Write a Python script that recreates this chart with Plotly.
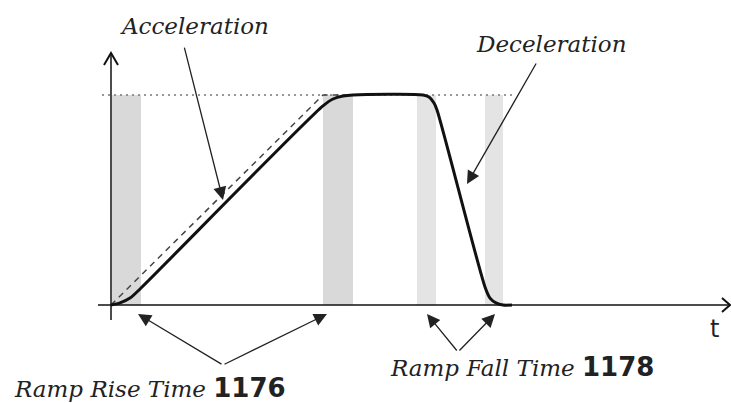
import plotly.graph_objects as go

# --- data (time in arbitrary units, speed as fraction of set speed) ---
time_pts = [0.00, 0.09, 0.19, 0.30, 2.12, 2.22, 2.32, 2.42, 3.12, 3.18, 3.23, 3.26, 3.74, 3.79, 3.85, 3.92, 4.01]
speed_pts = [0.000, 0.010, 0.033, 0.081, 0.948, 0.981, 0.995, 1.000, 1.000, 0.990, 0.962, 0.929, 0.086, 0.033, 0.010, 0.000, 0.000]

linear_time = [0.00, 2.12, 2.42]
linear_speed = [0.0, 1.0, 1.0]

setpoint_time = [-0.09, 4.04]
setpoint_speed = [1.0, 1.0]

band_start = [0.01, 2.12, 3.06, 3.74]
band_end = [0.30, 2.42, 3.25, 3.92]
band_color = ["#d9d9d9", "#d9d9d9", "#e4e4e4", "#e4e4e4"]

XR = [-1.11, 6.20]
YR = [-0.4667, 1.4524]

fig = go.Figure()

shapes = []
for s, e, c in zip(band_start, band_end, band_color):
    shapes.append(dict(type="rect", xref="x", yref="y", x0=s, x1=e, y0=0, y1=1,
                       fillcolor=c, line=dict(width=0), layer="below"))

# axes
shapes.append(dict(type="line", xref="x", yref="y", x0=0, x1=0, y0=-0.0714, y1=1.2,
                   line=dict(color="#111", width=1.5)))
shapes.append(dict(type="line", xref="x", yref="y", x0=-0.13, x1=6.19, y0=0, y1=0,
                   line=dict(color="#111", width=1.5)))
shapes.append(dict(type="path", xref="x", yref="y",
                   path="M -0.07,1.143 L 0,1.2 L 0.07,1.143",
                   line=dict(color="#111", width=2)))
shapes.append(dict(type="path", xref="x", yref="y",
                   path="M 6.11,0.033 L 6.19,0 L 6.11,-0.033",
                   line=dict(color="#111", width=2)))

fig.add_trace(go.Scatter(x=setpoint_time, y=setpoint_speed, mode="lines",
                         line=dict(color="#777", width=1.5, dash="2px,4px"),
                         hoverinfo="skip", showlegend=False))
fig.add_trace(go.Scatter(x=linear_time, y=linear_speed, mode="lines",
                         line=dict(color="#444", width=1.5, dash="6px,5px"),
                         hoverinfo="skip", showlegend=False))
fig.add_trace(go.Scatter(x=time_pts, y=speed_pts, mode="lines",
                         line=dict(color="#111", width=3, shape="spline", smoothing=0.8),
                         hoverinfo="skip", showlegend=False))

serif = "DejaVu Serif"
digits_style = "font-family:DejaVu Sans;font-size:26px"
ann = []

def arrow(tip, tail):
    return dict(x=tip[0], y=tip[1], ax=tail[0], ay=tail[1], xref="x", yref="y",
                axref="x", ayref="y", text="", showarrow=True, arrowhead=2,
                arrowsize=2, arrowwidth=1.3, arrowcolor="#222", standoff=0, startstandoff=0)

ann.append(arrow((1.12, 0.50), (0.73, 1.233)))
ann.append(arrow((3.56, 0.576), (4.26, 1.157)))
ann.append(arrow((0.27, -0.043), (1.12, -0.2857)))
ann.append(arrow((2.16, -0.043), (1.12, -0.2857)))
ann.append(arrow((3.16, -0.043), (3.47, -0.224)))
ann.append(arrow((3.84, -0.043), (3.47, -0.224)))

ann.append(dict(x=0.83, y=1.329, xref="x", yref="y", text="<i>Acceleration</i>", showarrow=False,
                font=dict(family=serif, size=23, color="#222"), xanchor="center", yanchor="middle"))
ann.append(dict(x=4.40, y=1.243, xref="x", yref="y", text="<i>Deceleration</i>", showarrow=False,
                font=dict(family=serif, size=23, color="#222"), xanchor="center", yanchor="middle"))
ann.append(dict(x=-0.99, y=-0.395, xref="x", yref="y",
                text="<i>Ramp Rise Time</i> <b style='" + digits_style + "'>1176</b>",
                showarrow=False, font=dict(family=serif, size=23, color="#222"),
                xanchor="left", yanchor="middle"))
ann.append(dict(x=2.77, y=-0.295, xref="x", yref="y",
                text="<i>Ramp Fall Time</i> <b style='" + digits_style + "'>1178</b>",
                showarrow=False, font=dict(family=serif, size=23, color="#222"),
                xanchor="left", yanchor="middle"))
ann.append(dict(x=6.03, y=-0.114, xref="x", yref="y", text="t", showarrow=False,
                font=dict(family="DejaVu Sans", size=24, color="#222"),
                xanchor="center", yanchor="middle"))

fig.update_layout(
    width=731, height=403,
    margin=dict(l=0, r=0, t=0, b=0),
    paper_bgcolor="white", plot_bgcolor="white",
    shapes=shapes, annotations=ann,
    xaxis=dict(range=XR, visible=False, fixedrange=True),
    yaxis=dict(range=YR, visible=False, fixedrange=True),
    showlegend=False,
)

fig.write_html(
    "out.html",
    config={"displayModeBar": False},
    post_script="document.body.style.margin='0px';document.body.style.overflow='hidden';",
)
